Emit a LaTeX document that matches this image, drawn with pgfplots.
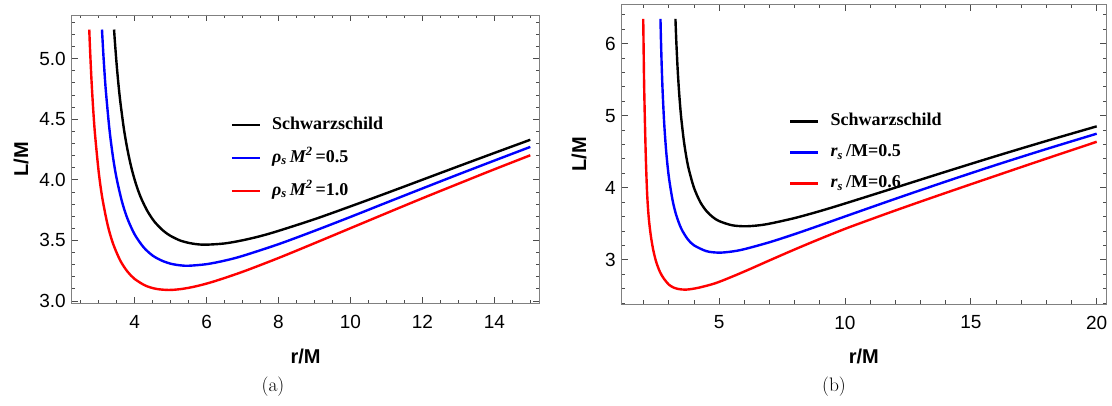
\documentclass[border=0pt]{standalone}
\usepackage{fontspec}
\usepackage{pgfplots}
\pgfplotsset{compat=1.18}
\newfontfamily\arial{Liberation Sans}
\newfontfamily\tnr{Liberation Serif}
\newcommand\legfont{\fontsize{18}{20}\selectfont\tnr\bfseries}

\pgfplotsset{mystyle/.style={
  scale only axis,
  axis line style={gray, line width=0.8pt},
  tick style={black!70, line width=0.7pt},
  tick align=inside,
  major tick length=6pt,
  minor tick length=3.5pt,
  tick label style={font=\fontsize{19}{19}\selectfont\arial},
  /pgf/number format/assume math mode=true,
  xticklabel style={anchor=north, inner sep=0pt, yshift=-11.7pt},
  yticklabel style={anchor=east, inner sep=0pt, xshift=-5.7pt},
  label style={font=\fontsize{20}{20}\selectfont\arial\bfseries},
  legend cell align=left,
  legend image code/.code={\draw[##1] (0pt,0pt) -- (28pt,0pt);},
}}
\pgfplotsset{curve/.style={line width=2.4pt, smooth, tension=0.5}}

\begin{document}
\begin{tikzpicture}
\path[use as bounding box] (0pt,0pt) rectangle (1112pt,406pt);

% ---------------- panel (a) ----------------
\begin{axis}[mystyle,
  at={(71.7pt,102.7pt)}, anchor=south west,
  width=467.6pt, height=288.3pt,
  xmin=2.25, xmax=15.25, ymin=2.98, ymax=5.36,
  xtick={4,6,8,10,12,14},
  minor xtick={2.5,3,...,15},
  ytick={3.0,3.5,4.0,4.5,5.0},
  minor ytick={3.0,3.1,...,5.35},
  y tick label style={/pgf/number format/fixed, /pgf/number format/fixed zerofill, /pgf/number format/precision=1},
  xlabel={r/M}, ylabel={L/M},
  x label style={at={(axis description cs:0.5,-0.183)}, anchor=center},
  y label style={at={(axis description cs:-0.108,0.5)}, anchor=center},
  legend style={draw=none, fill=none, at={(0.340,0.646)}, anchor=north west,
    inner sep=0pt, outer sep=0pt, row sep=17pt,
    nodes={inner sep=0pt, text height=12pt, text depth=4pt},
    /tikz/every odd column/.append style={column sep=11pt}},
]
\addplot[black, curve] coordinates {
(3.428,5.240) (3.45,5.143) (3.5,4.950) (3.55,4.787) (3.6,4.648) (3.7,4.422)
(3.8,4.249) (3.9,4.111) (4.0,4.000) (4.1,3.909) (4.2,3.834) (4.35,3.744)
(4.5,3.674) (4.6,3.637) (4.75,3.591) (4.9,3.555) (5.0,3.536) (5.25,3.500)
(5.5,3.479) (5.75,3.467) (6.0,3.464) (6.5,3.474) (7,3.500) (7.5,3.535) (8,3.578)
(9,3.674) (10,3.780) (11,3.889) (12,4.000) (13,4.111) (14,4.221) (15,4.330)};
\addlegendentry{\legfont Schwarzschild}
\addplot[blue, curve] coordinates {
(3.092,5.240) (3.12,5.088) (3.15,4.941) (3.2,4.732) (3.3,4.414) (3.4,4.183)
(3.5,4.009) (3.65,3.817) (3.8,3.679) (4.0,3.549) (4.25,3.442) (4.5,3.374)
(4.75,3.333) (5.0,3.307) (5.25,3.294) (5.5,3.290) (6,3.303) (6.5,3.332) (7,3.371) (8,3.468)
(9,3.578) (10,3.693) (11,3.811) (12,3.928) (13,4.044) (14,4.158) (15,4.271)};
\addlegendentry{\legfont{\itshape ρ\textsubscript{s}\,M\textsuperscript{2}}\,=0.5}
\addplot[red, curve] coordinates {
(2.738,5.240) (2.76,5.077) (2.8,4.824) (2.85,4.571) (2.9,4.369) (3.0,4.066)
(3.1,3.851) (3.25,3.626) (3.4,3.472) (3.6,3.333) (3.8,3.242) (4.0,3.181)
(4.3,3.126) (4.6,3.099) (4.95,3.090) (5.3,3.098) (5.7,3.120) (6.2,3.160)
(7,3.240) (8,3.354) (9,3.476) (10,3.600) (11,3.724) (12,3.847) (13,3.967)
(14,4.086) (15,4.202)};
\addlegendentry{\legfont{\itshape ρ\textsubscript{s}\,M\textsuperscript{2}}\,=1.0}
\end{axis}

% ---------------- panel (b) ----------------
\begin{axis}[mystyle,
  at={(621.7pt,102pt)}, anchor=south west,
  width=484.3pt, height=299.3pt,
  xmin=1.13, xmax=20.37, ymin=2.385, ymax=6.54,
  xtick={5,10,15,20},
  minor xtick={2,3,...,20},
  ytick={3,4,5,6},
  minor ytick={2.4,2.6,...,6.5},
  xlabel={r/M}, ylabel={L/M},
  x label style={at={(axis description cs:0.5,-0.174)}, anchor=center},
  y label style={at={(axis description cs:-0.088,0.5)}, anchor=center},
  legend style={draw=none, fill=none, at={(0.346,0.636)}, anchor=north west,
    inner sep=0pt, outer sep=0pt, row sep=15pt,
    nodes={inner sep=0pt, text height=12pt, text depth=4pt},
    /tikz/every odd column/.append style={column sep=11pt}},
]
\addplot[black, curve] coordinates {
(3.265,6.343) (3.3,6.025) (3.35,5.663) (3.4,5.376) (3.45,5.143) (3.5,4.950)
(3.6,4.648) (3.7,4.422) (3.8,4.249) (4.0,4.000) (4.25,3.801) (4.5,3.674)
(4.75,3.591) (5,3.536) (5.5,3.479) (6,3.464) (6.5,3.474) (7,3.500) (8,3.578) (9,3.674)
(10,3.780) (12,4.000) (14,4.221) (16,4.438) (18,4.648) (20,4.851)};
\addlegendentry{\legfont Schwarzschild}
\addplot[blue, curve] coordinates {
(2.670,6.343) (2.69,6.047) (2.72,5.682) (2.76,5.303) (2.82,4.884) (2.9,4.493)
(3.0,4.157) (3.15,3.828) (3.3,3.615) (3.5,3.429) (3.75,3.286) (4,3.200)
(4.5,3.118) (5,3.098) (5.5,3.113) (6,3.146) (7,3.242) (8,3.355) (9,3.476)
(10,3.600) (12,3.845) (14,4.084) (16,4.315) (18,4.536) (20,4.749)};
\addlegendentry{\legfont{\itshape r\textsubscript{s}}\,/M=0.5}
\addplot[red, curve] coordinates {
(1.985,6.343) (2.0,5.95) (2.02,5.45) (2.05,4.95) (2.09,4.40) (2.14,3.92)
(2.2,3.6) (2.28,3.35) (2.38,3.14) (2.5,2.97) (2.65,2.83) (2.8,2.74)
(3.0,2.655) (3.2,2.612) (3.4,2.592) (3.6,2.585) (3.8,2.588) (4.2,2.612)
(4.84,2.672) (5.5,2.762) (6.16,2.860) (7,2.990) (8,3.142) (9,3.288)
(10,3.428) (11,3.557) (12,3.683) (13,3.806) (14,3.927) (15,4.047)
(16,4.166) (17,4.285) (18,4.403) (19,4.520) (20,4.637)};
\addlegendentry{\legfont{\itshape r\textsubscript{s}}\,/M=0.6}
\end{axis}

\node[font=\fontsize{19.5}{20}\selectfont] at (273pt,19pt) {(a)};
\node[font=\fontsize{19.5}{20}\selectfont] at (834pt,19pt) {(b)};
\end{tikzpicture}
\end{document}
